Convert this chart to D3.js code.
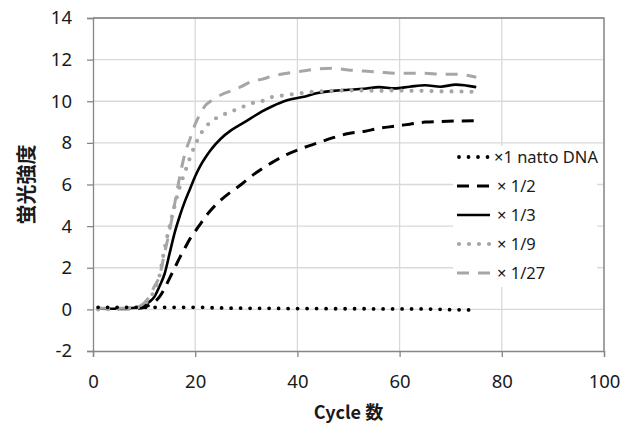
<!DOCTYPE html>
<html>
<head>
<meta charset="utf-8">
<title>蛍光強度</title>
<style>
  body { margin: 0; background: #fff; }
  svg { display: block; }
</style>
</head>
<body>
<svg></svg>
<script src="https://d3js.org/d3.v7.min.js"></script>
<script>
var cycles = [1, 4, 7, 9, 10, 11, 12, 13, 14, 15, 16, 17, 18, 19, 20, 21, 22, 23, 25, 27, 29, 31, 33, 35, 38, 41, 44, 47, 50, 53, 56, 59, 62, 65, 68, 71, 75];

var natto = [0.1, 0.1, 0.1, 0.1, 0.1, 0.1, 0.1, 0.1, 0.1, 0.1, 0.1, 0.1, 0.1, 0.1, 0.1, 0.1, 0.09, 0.08, 0.07, 0.06, 0.06, 0.05, 0.05, 0.05, 0.04, 0.04, 0.04, 0.03, 0.03, 0.03, 0.02, 0.02, 0.02, 0.02, 0.0, -0.02, -0.03];
var half = [0.05, 0.03, 0.03, 0.05, 0.1, 0.2, 0.35, 0.6, 1.0, 1.5, 2.0, 2.5, 2.95, 3.4, 3.75, 4.1, 4.45, 4.75, 5.25, 5.65, 6.0, 6.4, 6.75, 7.05, 7.45, 7.75, 8.0, 8.25, 8.45, 8.55, 8.7, 8.8, 8.9, 9.0, 9.03, 9.05, 9.07];
var third = [0.05, 0.03, 0.05, 0.1, 0.2, 0.35, 0.6, 1.1, 1.7, 2.7, 3.7, 4.5, 5.2, 5.8, 6.4, 6.9, 7.3, 7.65, 8.2, 8.6, 8.9, 9.2, 9.5, 9.75, 10.05, 10.2, 10.4, 10.5, 10.55, 10.6, 10.68, 10.62, 10.7, 10.77, 10.7, 10.8, 10.68];
var ninth = [0.0, 0.02, 0.05, 0.12, 0.25, 0.5, 0.9, 1.6, 2.9, 4.0, 5.0, 5.9, 6.6, 7.3, 7.9, 8.4, 8.75, 9.0, 9.3, 9.5, 9.7, 9.9, 10.0, 10.2, 10.3, 10.4, 10.47, 10.5, 10.52, 10.52, 10.5, 10.52, 10.5, 10.5, 10.47, 10.47, 10.45];
var twentyseventh = [0.05, 0.05, 0.07, 0.15, 0.3, 0.6, 1.1, 1.6, 2.7, 3.8, 5.1, 6.4, 7.5, 8.2, 8.9, 9.4, 9.8, 10.0, 10.3, 10.5, 10.7, 10.95, 11.05, 11.2, 11.35, 11.45, 11.55, 11.58, 11.5, 11.45, 11.4, 11.35, 11.35, 11.35, 11.3, 11.3, 11.15];

var seriesNames = ["×1 natto DNA", "× 1/2", "× 1/3", "× 1/9", "× 1/27"];
var xTicks = [0, 20, 40, 60, 80, 100];
var yTicks = [-2, 0, 2, 4, 6, 8, 10, 12, 14];

window.onload = function() {
    var svg = d3.select("svg")
        .attr("width", 635)
        .attr("height", 439);

    var left = 93, right = 604, top = 18, bottom = 351;

    var x = d3.scaleLinear().domain([0, 100]).range([left, right]);
    var y = d3.scaleLinear().domain([-2, 14]).range([bottom, top]);

    // grid lines
    svg.append("g").selectAll("line")
        .data(yTicks.slice(1)).enter().append("line")
        .attr("x1", left).attr("x2", right)
        .attr("y1", function(d) { return y(d); })
        .attr("y2", function(d) { return y(d); })
        .attr("stroke", "#d9d9d9").attr("stroke-width", 1.3);
    svg.append("g").selectAll("line")
        .data(xTicks.slice(1)).enter().append("line")
        .attr("x1", function(d) { return x(d); })
        .attr("x2", function(d) { return x(d); })
        .attr("y1", top).attr("y2", bottom)
        .attr("stroke", "#d9d9d9").attr("stroke-width", 1.3);

    // plot border (top, right)
    svg.append("path")
        .attr("d", "M" + left + "," + top + "H" + right + "V" + bottom)
        .attr("fill", "none").attr("stroke", "#7f7f7f").attr("stroke-width", 1.3);

    // axes
    var font = "'Noto Sans', 'Liberation Sans', sans-serif";
    var fmt = function(d) { return String(d); }; // plain hyphen for -2
    var yAxis = svg.append("g")
        .attr("transform", "translate(" + left + ",0)")
        .call(d3.axisLeft(y).tickValues(yTicks).tickFormat(fmt).tickSize(6).tickPadding(15));
    var xAxis = svg.append("g")
        .attr("transform", "translate(0," + bottom + ")")
        .call(d3.axisBottom(x).tickValues(xTicks).tickFormat(fmt).tickSize(6).tickPadding(18));
    [xAxis, yAxis].forEach(function(a) {
        a.select(".domain").attr("stroke", "#868686").attr("stroke-width", 1.3);
        a.selectAll(".tick line").attr("stroke", "#868686").attr("stroke-width", 1.3);
        a.selectAll("text").attr("font-family", font).attr("font-size", 18.5).attr("fill", "#1a1a1a");
    });

    // axis titles
    svg.append("text")
        .attr("transform", "translate(34," + ((top + bottom) / 2) + ") rotate(-90)")
        .attr("text-anchor", "middle")
        .attr("font-family", "'Noto Sans CJK JP', sans-serif")
        .attr("font-weight", "bold").attr("font-size", 20)
        .attr("fill", "#1a1a1a")
        .text("蛍光強度");
    svg.append("text")
        .attr("x", (left + right) / 2).attr("y", 419)
        .attr("text-anchor", "middle")
        .attr("font-family", "'Noto Sans CJK JP', sans-serif")
        .attr("font-weight", "bold").attr("font-size", 18)
        .attr("fill", "#1a1a1a")
        .text("Cycle 数");

    // line styles per series
    var styles = [
        {values: natto, color: "#000", width: 3.8, dash: "0,9.5", cap: "round"},
        {values: half, color: "#000", width: 3, dash: "12,8", cap: "butt"},
        {values: third, color: "#000", width: 2.6, dash: null, cap: "butt"},
        {values: ninth, color: "#a6a6a6", width: 4.2, dash: "0,10", cap: "round"},
        {values: twentyseventh, color: "#a6a6a6", width: 3, dash: "12,9", cap: "butt"}
    ];

    var line = d3.line()
        .x(function(d) { return x(d[0]); })
        .y(function(d) { return y(d[1]); })
        .curve(d3.curveMonotoneX);

    // natto drawn last so its dots sit on top at the baseline
    [1, 2, 3, 4, 0].forEach(function(i) {
        var s = styles[i];
        var pts = cycles.map(function(c, j) { return [c, s.values[j]]; });
        svg.append("path")
            .attr("d", line(pts))
            .attr("fill", "none")
            .attr("stroke", s.color)
            .attr("stroke-width", s.width)
            .attr("stroke-dasharray", s.dash)
            .attr("stroke-linecap", s.cap)
            .attr("stroke-linejoin", "round");
    });

    // legend
    var lg = svg.append("g");
    lg.append("rect")
        .attr("x", 453).attr("y", 146).attr("width", 144).attr("height", 141)
        .attr("fill", "#fff");
    var rowY = d3.scaleLinear().domain([0, 4]).range([157, 273]);
    styles.forEach(function(s, i) {
        var yy = rowY(i);
        lg.append("line")
            .attr("x1", i == 0 || i == 3 ? 459 : 457).attr("x2", 490)
            .attr("y1", yy).attr("y2", yy)
            .attr("stroke", s.color)
            .attr("stroke-width", s.width)
            .attr("stroke-dasharray", s.dash)
            .attr("stroke-linecap", s.cap);
        lg.append("text")
            .attr("x", i == 0 ? 494 : 497).attr("y", yy)
            .attr("dy", "0.35em")
            .attr("font-family", font)
            .attr("font-size", 16.5)
            .attr("fill", "#1a1a1a")
            .text(seriesNames[i]);
    });
};
</script>
</body>
</html>
